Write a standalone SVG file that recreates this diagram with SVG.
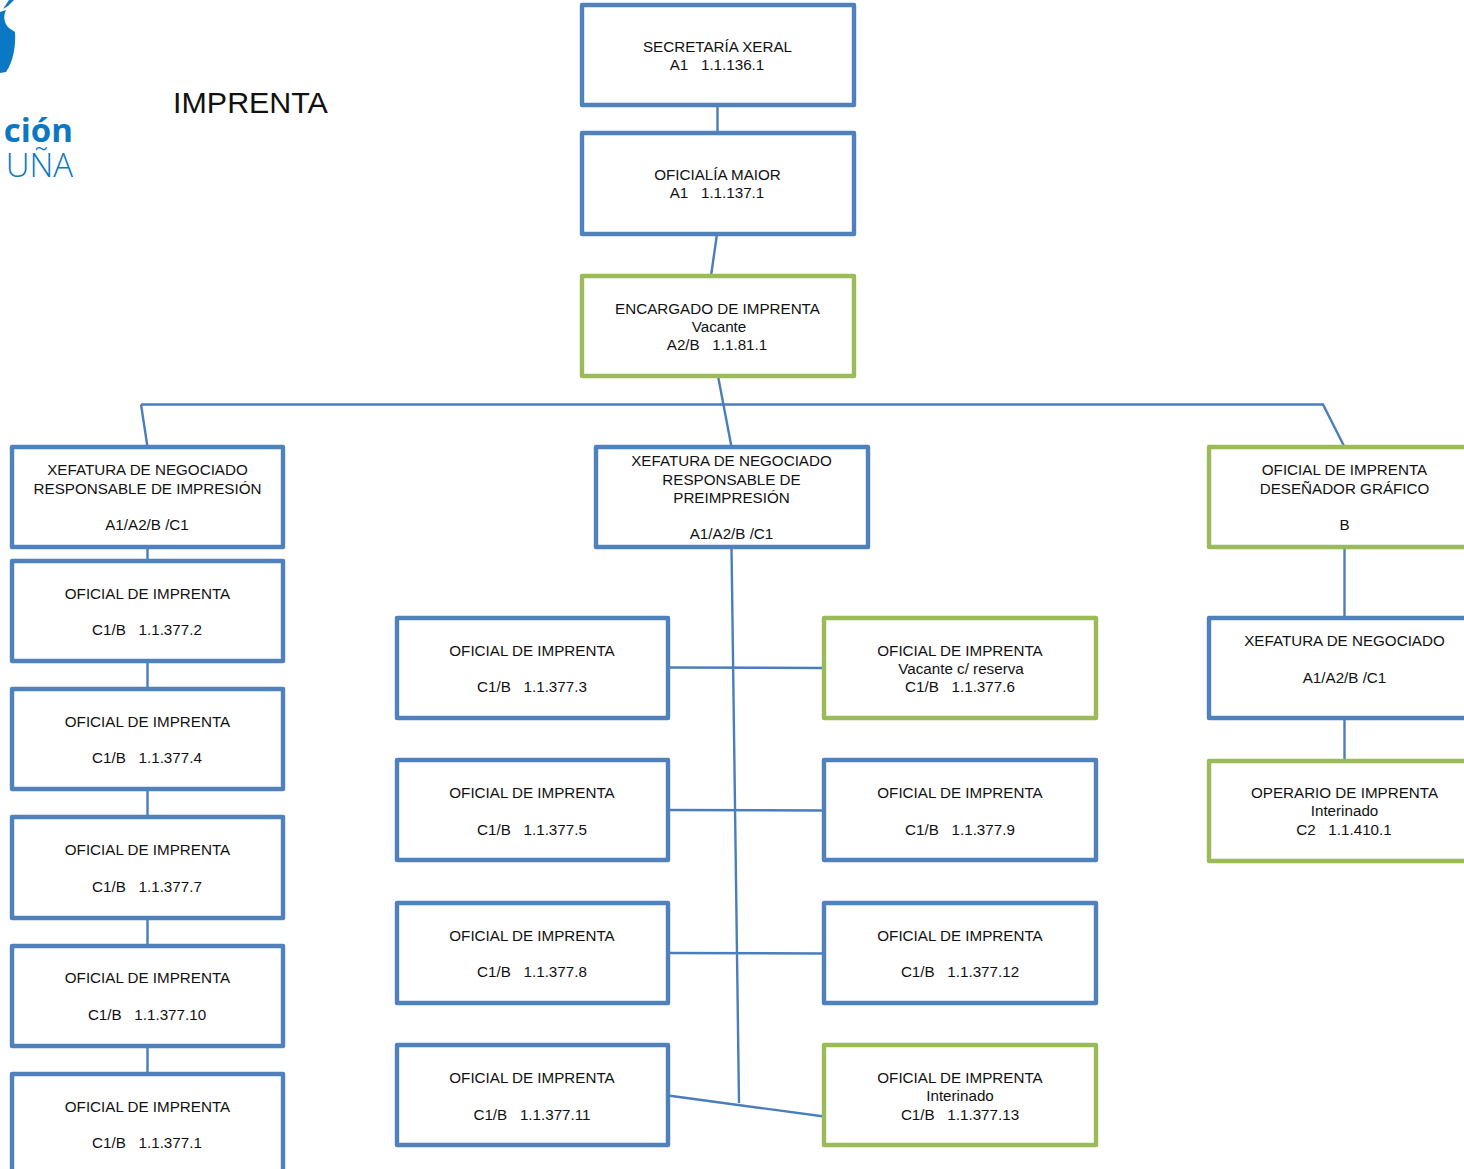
<svg xmlns="http://www.w3.org/2000/svg" width="1464" height="1169" viewBox="0 0 1464 1169">
<style>
text{font-family:"Liberation Sans",Arial,sans-serif;font-size:15.2px;fill:#111;text-anchor:middle;white-space:pre}
.b{fill:#fff;stroke:#4f81bd;stroke-width:4.4;stroke-linejoin:round}
.g{fill:#fff;stroke:#9bbb59;stroke-width:4.4;stroke-linejoin:round}
.c{fill:none;stroke:#4a7ebb;stroke-width:2.4}
</style>
<rect width="1464" height="1169" fill="#fff"/>
<g id="logo">
<path d="M0 12 L6 10 C3 16 4 24 9 28 L15 32 C16 46 13 62 6 72 L0 73 Z" fill="#0a78c2"/>
<path d="M3 9 L9 0 L14 0 L8 6 Z" fill="#0a78c2"/>
<text x="73" y="142" style="font-family:'Open Sans',sans-serif;font-weight:700;font-size:33px;fill:#0a78c2;text-anchor:end">ción</text>
<text x="73" y="177" style="font-family:'Open Sans',sans-serif;font-weight:300;font-size:33px;fill:#0a78c2;text-anchor:end">UÑA</text>
</g>
<text id="title" x="250.500" y="113" style="font-size:30.400px">IMPRENTA</text>
<g id="connectors">
<path class="c" d="M717.500 105V133M717 234L711 276M718 376L731.500 447M141 404.500H1323L1344.500 447M141 404.500L147.500 447"/>
<path class="c" d="M147.500 547V561M147.500 661V689M147.500 789V817M147.500 918V946M147.500 1046V1074"/>
<path class="c" d="M731.500 547L739 1103M668 667.500L824 668M668 810L824 810.500M668 953L824 953.500M668 1095.500L824 1116.500"/>
<path class="c" d="M1344.500 547V618M1344.500 718V761"/>
</g>
<g id="n1"><rect class="b" x="582" y="5" width="272" height="100"/><text x="717.500" y="52">SECRETARÍA XERAL</text><text x="717" y="70">A1   1.1.136.1</text></g>
<g id="n2"><rect class="b" x="582" y="133" width="272" height="101"/><text x="717.500" y="180">OFICIALÍA MAIOR</text><text x="717" y="198">A1   1.1.137.1</text></g>
<g id="n3"><rect class="g" x="582" y="276" width="272" height="100"/><text x="717.500" y="314">ENCARGADO DE IMPRENTA</text><text x="719" y="332">Vacante</text><text x="717" y="350">A2/B   1.1.81.1</text></g>
<g id="n4"><rect class="b" x="12" y="447" width="271" height="100"/><text x="147.500" y="475">XEFATURA DE NEGOCIADO</text><text x="147.500" y="494">RESPONSABLE DE IMPRESIÓN</text><text x="147" y="530">A1/A2/B /C1</text></g>
<g id="n5"><rect class="b" x="596" y="447" width="272" height="100"/><text x="731.500" y="466">XEFATURA DE NEGOCIADO</text><text x="731.500" y="485">RESPONSABLE DE</text><text x="731.500" y="503">PREIMPRESIÓN</text><text x="731.500" y="539">A1/A2/B /C1</text></g>
<g id="n6"><rect class="g" x="1209" y="447" width="272" height="100"/><text x="1344.500" y="475">OFICIAL DE IMPRENTA</text><text x="1344.500" y="494">DESEÑADOR GRÁFICO</text><text x="1344.500" y="530">B</text></g>
<g id="n7"><rect class="b" x="12" y="561" width="271" height="100"/><text x="147.500" y="599">OFICIAL DE IMPRENTA</text><text x="147" y="635">C1/B   1.1.377.2</text></g>
<g id="n8"><rect class="b" x="12" y="689" width="271" height="100"/><text x="147.500" y="727">OFICIAL DE IMPRENTA</text><text x="147" y="763">C1/B   1.1.377.4</text></g>
<g id="n9"><rect class="b" x="12" y="817" width="271" height="101"/><text x="147.500" y="855">OFICIAL DE IMPRENTA</text><text x="147" y="892">C1/B   1.1.377.7</text></g>
<g id="n10"><rect class="b" x="12" y="946" width="271" height="100"/><text x="147.500" y="983">OFICIAL DE IMPRENTA</text><text x="147" y="1020">C1/B   1.1.377.10</text></g>
<g id="n11"><rect class="b" x="12" y="1074" width="271" height="100"/><text x="147.500" y="1112">OFICIAL DE IMPRENTA</text><text x="147" y="1148">C1/B   1.1.377.1</text></g>
<g id="n12"><rect class="b" x="397" y="618" width="271" height="100"/><text x="532" y="656">OFICIAL DE IMPRENTA</text><text x="532" y="692">C1/B   1.1.377.3</text></g>
<g id="n13"><rect class="g" x="824" y="618" width="272" height="100"/><text x="960" y="656">OFICIAL DE IMPRENTA</text><text x="961" y="674">Vacante c/ reserva</text><text x="960" y="692">C1/B   1.1.377.6</text></g>
<g id="n14"><rect class="b" x="397" y="760" width="271" height="100"/><text x="532" y="798">OFICIAL DE IMPRENTA</text><text x="532" y="835">C1/B   1.1.377.5</text></g>
<g id="n15"><rect class="b" x="824" y="760" width="272" height="100"/><text x="960" y="798">OFICIAL DE IMPRENTA</text><text x="960" y="835">C1/B   1.1.377.9</text></g>
<g id="n16"><rect class="b" x="397" y="903" width="271" height="100"/><text x="532" y="941">OFICIAL DE IMPRENTA</text><text x="532" y="977">C1/B   1.1.377.8</text></g>
<g id="n17"><rect class="b" x="824" y="903" width="272" height="100"/><text x="960" y="941">OFICIAL DE IMPRENTA</text><text x="960" y="977">C1/B   1.1.377.12</text></g>
<g id="n18"><rect class="b" x="397" y="1045" width="271" height="100"/><text x="532" y="1083">OFICIAL DE IMPRENTA</text><text x="532" y="1120">C1/B   1.1.377.11</text></g>
<g id="n19"><rect class="g" x="824" y="1045" width="272" height="100"/><text x="960" y="1083">OFICIAL DE IMPRENTA</text><text x="960" y="1101">Interinado</text><text x="960" y="1120">C1/B   1.1.377.13</text></g>
<g id="n20"><rect class="b" x="1209" y="618" width="272" height="100"/><text x="1344.500" y="646">XEFATURA DE NEGOCIADO</text><text x="1344.500" y="683">A1/A2/B /C1</text></g>
<g id="n21"><rect class="g" x="1209" y="761" width="272" height="100"/><text x="1344.500" y="798">OPERARIO DE IMPRENTA</text><text x="1344.500" y="816">Interinado</text><text x="1344" y="835">C2   1.1.410.1</text></g>
</svg>
